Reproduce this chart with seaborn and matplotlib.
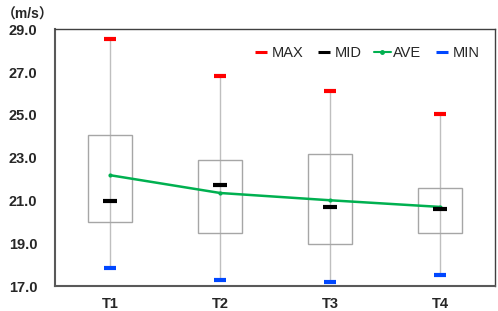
import pandas as pd
import matplotlib.pyplot as plt
import seaborn as sns
from matplotlib.lines import Line2D

# valores (m/s)
categorias = ['T1', 'T2', 'T3', 'T4']
v_max = [28.53, 26.83, 26.13, 25.03]
v_min = [17.83, 17.30, 17.21, 17.50]
v_mid = [20.99, 21.71, 20.71, 20.62]
v_ave = [22.18, 21.35, 21.01, 20.70]
caixa_sup = [24.05, 22.89, 23.16, 21.60]
caixa_inf = [20.01, 19.47, 18.95, 19.47]

df = pd.DataFrame({'T': categorias, 'MAX': v_max, 'MIN': v_min, 'MID': v_mid,
                   'AVE': v_ave, 'sup': caixa_sup, 'inf': caixa_inf})
df['x'] = range(len(df))

sns.set_style('white')
plt.rcParams['font.family'] = ['Liberation Sans', 'Noto Sans CJK SC', 'DejaVu Sans']

fig = plt.figure(figsize=(4.98, 3.11), dpi=100)
ax = fig.add_axes([0.111, 0.080, 0.883, 0.826])

# bigodes (min -> max)
ax.vlines(df['x'], df['MIN'], df['MAX'], color='#bfbfbf', lw=1.0, zorder=1)
# caixas
ax.bar(df['x'], df['sup'] - df['inf'], bottom=df['inf'], width=0.4,
       facecolor='none', edgecolor='#a6a6a6', lw=1.0, zorder=2)

# marcadores
sns.scatterplot(data=df, x='x', y='MAX', marker='_', s=80, color='#ff0000',
                linewidth=3, ax=ax, zorder=4, legend=False)
sns.scatterplot(data=df, x='x', y='MID', marker='_', s=100, color='#000000',
                linewidth=3, ax=ax, zorder=4, legend=False)
sns.scatterplot(data=df, x='x', y='MIN', marker='_', s=80, color='#0047ff',
                linewidth=3, ax=ax, zorder=4, legend=False)
sns.lineplot(data=df, x='x', y='AVE', color='#00b050', lw=1.8, marker='o',
             markersize=3, markeredgewidth=0, ax=ax, zorder=3, legend=False)

ax.set_xlim(-0.5, 3.5)
ax.set_ylim(17, 29)
ax.set_yticks([17, 19, 21, 23, 25, 27, 29])
ax.set_yticklabels([f'{v:.1f}' for v in [17, 19, 21, 23, 25, 27, 29]],
                   fontsize=10.5, fontweight='bold')
ax.set_xticks(df['x'])
ax.set_xticklabels(categorias, fontsize=10.5, fontweight='bold')
ax.tick_params(axis='y', length=0, pad=13)
ax.tick_params(axis='x', length=0, pad=8)
ax.set_xlabel('')
ax.set_ylabel('')

for lado in ['top', 'right']:
    ax.spines[lado].set_color('#404040')
    ax.spines[lado].set_linewidth(1.0)
for lado in ['left', 'bottom']:
    ax.spines[lado].set_color('#595959')
    ax.spines[lado].set_linewidth(1.5)

fig.text(0.004, 0.975, '（m/s）', fontsize=10, fontweight='bold', va='top', ha='left')

handles = [
    Line2D([], [], color='#ff0000', marker='_', ls='none', ms=9, mew=2.2),
    Line2D([], [], color='#000000', marker='_', ls='none', ms=9, mew=2.2),
    Line2D([], [], color='#00b050', lw=1.5, marker='o', ms=2.5),
    Line2D([], [], color='#0047ff', marker='_', ls='none', ms=9, mew=2.2),
]
ax.legend(handles, ['MAX', 'MID', 'AVE', 'MIN'], ncol=4, loc='upper right',
          bbox_to_anchor=(0.995, 0.985), frameon=False, fontsize=10.5,
          handlelength=1.2, handletextpad=0.15, columnspacing=0.8)

fig.savefig('out.png', dpi=100)
